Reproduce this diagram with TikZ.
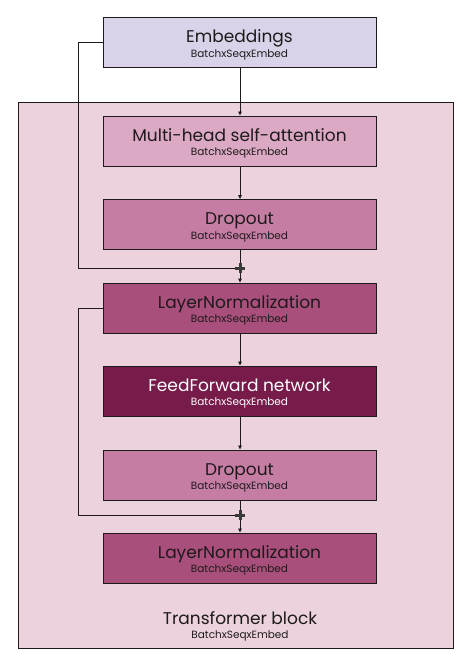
\documentclass[tikz,border=0pt]{standalone}
\usepackage{fontspec}
\setmainfont{Poppins}
\usetikzlibrary{arrows.meta}
\definecolor{embc}{HTML}{DAD2E8}
\definecolor{blockc}{HTML}{EBD2DC}
\definecolor{mhac}{HTML}{DBA9C3}
\definecolor{dropc}{HTML}{C67DA3}
\definecolor{lnc}{HTML}{A84F7B}
\definecolor{ffc}{HTML}{761B4A}
\definecolor{plusc}{HTML}{3A3A3A}
\definecolor{ink}{HTML}{1E1A1C}
\tikzset{
  layer/.style={draw=ink, line width=0.9pt, minimum width=273pt, minimum height=50pt, inner sep=0pt, align=center, text=ink},
  conn/.style={draw=ink, line width=0.8pt},
  arr/.style={conn, -{Triangle[length=4pt,width=3.5pt]}},
  plusmark/.style={draw=plusc, line width=3pt}
}
\newcommand{\boxtext}[1]{{\fontsize{17}{19}\selectfont\rule{0pt}{18pt}#1}\\[1.5pt]{\fontsize{10.5}{11}\selectfont BatchxSeqxEmbed}}
\begin{document}
\begin{tikzpicture}[x=1pt,y=-1pt]
\useasboundingbox (0,0) rectangle (464,662);
\fill[white] (0,0) rectangle (464,662);
\node[draw=ink, line width=0.9pt, fill=blockc, minimum width=435pt, minimum height=546pt, inner sep=0pt] (block) at (235.5,375) {};
\node[align=center, text=ink, anchor=center] (blocklabel) at (240,624) {\boxtext{Transformer block}};
\node[layer, fill=embc] (emb) at (239.5,42) {\boxtext{Embeddings}};
\node[layer, fill=mhac] (mha) at (239.5,141) {\boxtext{Multi-head self-attention}};
\node[layer, fill=dropc] (drop1) at (239.5,224.5) {\boxtext{Dropout}};
\node[layer, fill=lnc] (ln1) at (239.5,308) {\boxtext{LayerNormalization}};
\node[layer, fill=ffc, text=white] (ff) at (239.5,391) {\boxtext{FeedForward network}};
\node[layer, fill=dropc] (drop2) at (239.5,475) {\boxtext{Dropout}};
\node[layer, fill=lnc] (ln2) at (239.5,558) {\boxtext{LayerNormalization}};
\coordinate (p1) at (240,268);
\coordinate (p2) at (240,515);
\coordinate (r1) at (78,42);
\coordinate (r2) at (78,308);
% main path
\draw[arr] (emb.south -| p1) -- (mha.north -| p1);
\draw[arr] (mha.south -| p1) -- (drop1.north -| p1);
\draw[conn] (drop1.south -| p1) -- (p1);
\draw[arr] (p1) -- (ln1.north -| p1);
\draw[arr] (ln1.south -| p1) -- (ff.north -| p1);
\draw[arr] (ff.south -| p1) -- (drop2.north -| p1);
\draw[conn] (drop2.south -| p2) -- (p2);
\draw[arr] (p2) -- (ln2.north -| p2);
% residuals
\draw[conn] (emb.west) -- (r1) -- (r1 |- p1) -- (p1);
\draw[conn] (ln1.west) -- (r2) -- (r2 |- p2) -- (p2);
% plus marks
\foreach \p in {p1,p2}{
  \draw[plusmark] ([xshift=-5pt]\p) -- ([xshift=5pt]\p);
  \draw[plusmark] ([yshift=-5pt]\p) -- ([yshift=5pt]\p);
}
\end{tikzpicture}
\end{document}
